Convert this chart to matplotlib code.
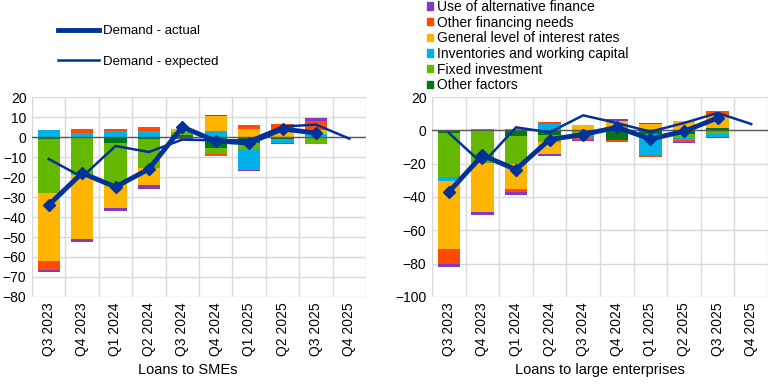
import numpy as np
import matplotlib
matplotlib.use("Agg")
import matplotlib.pyplot as plt
from matplotlib.lines import Line2D
from matplotlib.patches import Patch

plt.rcParams["font.family"] = ["Liberation Sans", "DejaVu Sans"]

quarters = ["Q3 2023", "Q4 2023", "Q1 2024", "Q2 2024", "Q3 2024",
            "Q4 2024", "Q1 2025", "Q2 2025", "Q3 2025", "Q4 2025"]

factors = ["Other factors", "Fixed investment", "Inventories and working capital",
           "General level of interest rates", "Other financing needs",
           "Use of alternative finance"]
colors = ["#007816", "#65b800", "#00b1ea", "#ffb400", "#ff4b00", "#8139c6"]

# Loans to SMEs (9 quarters of factors, Q4 2025 only expected)
sme_other = [-0.8, 0.0, -2.8, -0.8, 1.0, -5.7, -3.0, -1.2, 0.0]
sme_fixed = [-27.2, -19.0, -20.2, -14.7, 1.7, -3.0, -3.0, 0.0, -3.3]
sme_inv = [3.5, 2.0, 3.0, 3.0, 0.0, 3.2, -10.3, -1.8, 1.7]
sme_rates = [-34.0, -32.0, -12.3, -8.5, 1.3, 7.3, 4.2, 3.5, 1.6]
sme_fin = [-4.5, 2.0, 1.0, 2.2, 0.0, -1.0, 2.0, 3.2, 4.5]
sme_alt = [-1.2, -1.5, -1.5, -1.8, -1.0, 0.5, -0.5, -0.5, 1.5]
sme_actual = [-34, -18, -25, -16, 5, -2, -3, 4, 2]
sme_expected = [-11, -20, -4.5, -7.5, -1.3, -1.7, -1.7, 5.2, 6.2, -0.8]

# Loans to large enterprises
le_other = [-1.6, 0.0, -3.3, -2.8, 0.0, -5.8, -2.2, -2.2, 1.4]
le_fixed = [-26.4, -19.5, -16.7, -4.4, -1.5, 0.0, 0.8, -2.6, -2.0]
le_inv = [-2.5, 0.7, 0.7, 3.6, -3.3, 2.0, -12.4, -1.0, -1.8]
le_rates = [-40.5, -29.5, -15.0, -7.0, 3.4, 3.8, 2.8, 5.6, 7.8]
le_fin = [-9.0, 0.0, -2.0, 1.2, -1.0, -1.2, -1.2, -1.2, 2.4]
le_alt = [-2.0, -2.0, -2.0, -1.0, -0.6, 0.8, 0.6, -0.6, -0.8]
le_actual = [-37, -15, -23.5, -5.5, -2.5, 1.8, -5.2, -0.6, 7.4]
le_expected = [-1.5, -20, 1.8, -1.2, 9.0, 4.4, -0.8, 4.4, 10.4, 3.8]

line_color = "#003299"
grid_color = "#d9d9d9"


def draw_panel(ax, parts, actual, expected, ylim, step):
    x = np.arange(len(quarters))
    n = len(parts[0])
    pos_base = np.zeros(n)
    neg_base = np.zeros(n)
    for vals, c in zip(parts, colors):
        v = np.array(vals)
        pos = np.where(v > 0, v, 0)
        neg = np.where(v < 0, v, 0)
        ax.bar(x[:n], pos, 0.67, bottom=pos_base, color=c, zorder=2)
        ax.bar(x[:n], neg, 0.67, bottom=neg_base, color=c, zorder=2)
        pos_base += pos
        neg_base += neg
    ax.axhline(0, color="#595959", lw=1, zorder=3)
    ax.plot(x[:len(actual)], actual, color=line_color, lw=3.5, marker="D",
            markersize=6, zorder=5)
    ax.plot(x[:len(expected)], expected, color=line_color, lw=1.8, zorder=4)

    ax.set_xlim(-0.5, len(quarters) - 0.5)
    ax.set_ylim(*ylim)
    ax.set_yticks(np.arange(ylim[0], ylim[1] + 1, step))
    ax.set_xticks(x)
    ax.set_xticklabels(quarters, rotation=90)
    for b in np.arange(-0.5, len(quarters), 1):
        ax.axvline(b, color=grid_color, lw=1, zorder=1)
    ax.grid(axis="y", color=grid_color, lw=1, zorder=1)
    ax.set_axisbelow(True)
    for s in ax.spines.values():
        s.set_visible(False)
    ax.tick_params(length=0, labelsize=10, pad=4)


fig = plt.figure(figsize=(7.71, 3.85), dpi=100)
ax1 = fig.add_axes([32 / 771, 1 - 297 / 385, 334 / 771, 200 / 385])
ax2 = fig.add_axes([432 / 771, 1 - 297 / 385, 336 / 771, 200 / 385])

draw_panel(ax1, [sme_other, sme_fixed, sme_inv, sme_rates, sme_fin, sme_alt],
           sme_actual, sme_expected, (-80, 20), 10)
draw_panel(ax2, [le_other, le_fixed, le_inv, le_rates, le_fin, le_alt],
           le_actual, le_expected, (-100, 20), 20)

fig.text(188 / 771, 1 - 370 / 385, "Loans to SMEs", ha="center", va="center",
         fontsize=10.5)
fig.text(600 / 771, 1 - 370 / 385, "Loans to large enterprises", ha="center",
         va="center", fontsize=10.5)

# legends
line_handles = [Line2D([], [], color=line_color, lw=3.5, marker="D", markersize=2),
                Line2D([], [], color=line_color, lw=1.8)]
fig.legend(line_handles, ["Demand - actual", "Demand - expected"],
           loc="upper left", bbox_to_anchor=(58 / 771, 1 - 25 / 385),
           frameon=False, fontsize=9.5, handlelength=3.1, handletextpad=0.3,
           labelspacing=1.4, borderaxespad=0, borderpad=0)

bar_handles = [Patch(color=c) for c in colors][::-1]
fig.legend(bar_handles, factors[::-1], loc="upper left",
           bbox_to_anchor=(427 / 771, 1.0), frameon=False, fontsize=10,
           handlelength=0.45, handleheight=0.45, handletextpad=0.25,
           labelspacing=0.12, borderaxespad=0, borderpad=0)

fig.savefig("out.png", dpi=100)
